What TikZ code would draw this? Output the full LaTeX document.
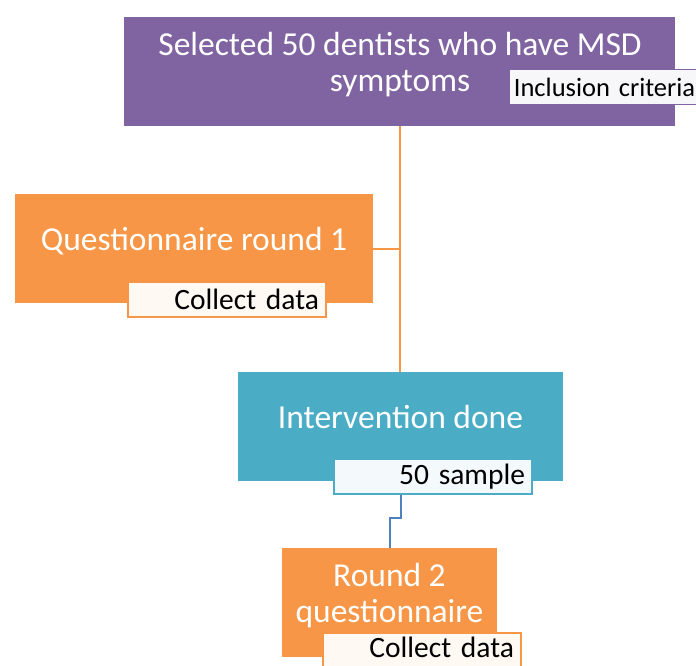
\documentclass[tikz,border=0pt]{standalone}
\usepackage{fontspec}
\setmainfont{Carlito}
\definecolor{purplebox}{HTML}{8064A2}
\definecolor{orangebox}{HTML}{F79646}
\definecolor{tealbox}{HTML}{4BACC6}
\definecolor{blueline}{HTML}{4F81BD}

\begin{document}
\begin{tikzpicture}[x=1pt, y=-1pt,
  stage/.style={fill=#1, minimum height=109pt, inner sep=0pt},
  stagetext/.style={text=white, align=center, font=\fontsize{33.5}{36}\selectfont, inner sep=0pt},
  tag/.style={draw=#1, fill=#1!6, line width=1.8pt, minimum height=35pt, text width=184pt,
    inner xsep=7pt, inner ysep=0pt, text=black, font=\fontsize{29.5}{32}\selectfont},
  link/.style={draw=#1, line width=2pt}]
  \useasboundingbox (0,0) rectangle (696,666);

  % Selected dentists
  \node[stage=purplebox, minimum width=551pt] (select) at (399.5,71.5) {};
  \node[stagetext] (select-text) at (400,64.5) {Selected 50 dentists who have MSD\\symptoms};
  \node[tag=purplebox, align=left, text width=240pt, inner xsep=5pt, anchor=west,
    font=\fontsize{26.5}{30}\selectfont] (incl) at (508,87) {Inclusion criteria};

  % Questionnaire round 1
  \node[stage=orangebox, minimum width=358pt] (round1) at (194,248.5) {};
  \node[stagetext] (round1-text) at (194,241) {Questionnaire round 1};
  \node[tag=orangebox, align=right] (collect1) at (227,299.5) {Collect data};

  % Intervention
  \node[stage=tealbox, minimum width=325pt] (interv) at (400.5,426.5) {};
  \node[stagetext] (interv-text) at (400.5,417) {Intervention done};
  \node[tag=tealbox, align=right] (sample) at (433,476.5) {50 sample};

  % Round 2
  \node[stage=orangebox, minimum width=215pt] (round2) at (389.5,602.5) {};
  \node[stagetext] (round2-text) at (389.5,595.5) {Round 2\\questionnaire};
  \node[tag=orangebox, align=right, text depth=6pt] (collect2) at (422,650.5) {Collect data};

  % connectors
  \draw[link=orangebox] (select.south) -- (select.south |- interv.north);
  \draw[link=orangebox] (round1.east) -- (round1.east -| select.south);
  \draw[link=blueline] (interv.south |- sample.south) -- ++(0,23) -| (round2.north);
\end{tikzpicture}
\end{document}
